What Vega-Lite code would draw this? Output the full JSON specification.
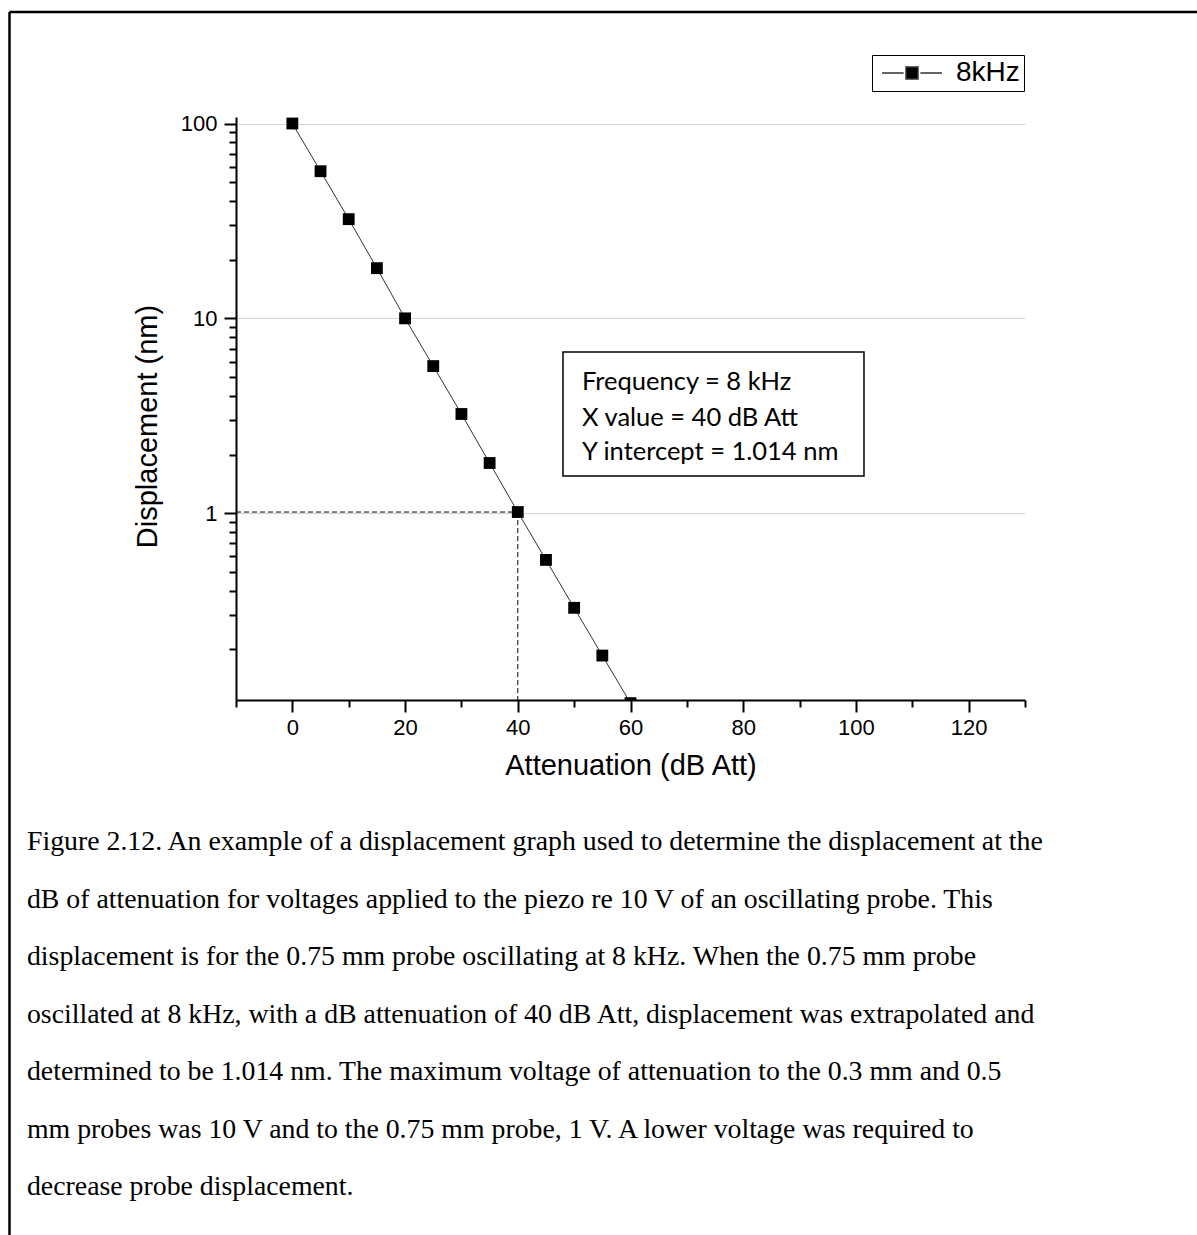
{
  "$schema": "https://vega.github.io/schema/vega-lite/v6.json",
  "width": 789,
  "height": 583,
  "autosize": {"type": "none"},
  "padding": {"left": 236, "top": 117, "right": 172, "bottom": 535},
  "background": "white",
  "config": {
    "view": {"stroke": null},
    "font": "Liberation Sans",
    "axis": {
      "labelFont": "Liberation Sans",
      "labelFontSize": 22,
      "labelColor": "black",
      "titleFont": "Liberation Sans",
      "titleFontSize": 29,
      "titleFontWeight": "normal",
      "titleColor": "black",
      "domainColor": "black",
      "domainWidth": 2,
      "tickColor": "black",
      "tickWidth": 2,
      "labelOverlap": false,
      "labelFlush": false,
      "labelBound": false
    },
    "legend": {
      "strokeColor": "black",
      "fillColor": "white",
      "padding": 4,
      "labelFont": "Liberation Sans",
      "labelFontSize": 28,
      "labelColor": "black",
      "labelOffset": 48
    }
  },
  "datasets": {
    "series": [
      {"att": 0, "disp": 100, "series": "8kHz"},
      {"att": 5, "disp": 56.9, "series": "8kHz"},
      {"att": 10, "disp": 32.3, "series": "8kHz"},
      {"att": 15, "disp": 18.1, "series": "8kHz"},
      {"att": 20, "disp": 10.0, "series": "8kHz"},
      {"att": 25, "disp": 5.69, "series": "8kHz"},
      {"att": 30, "disp": 3.23, "series": "8kHz"},
      {"att": 35, "disp": 1.81, "series": "8kHz"},
      {"att": 40, "disp": 1.014, "series": "8kHz"},
      {"att": 45, "disp": 0.576, "series": "8kHz"},
      {"att": 50, "disp": 0.327, "series": "8kHz"},
      {"att": 55, "disp": 0.186, "series": "8kHz"},
      {"att": 60, "disp": 0.106, "series": "8kHz"}
    ],
    "guides": [
      {"x": -10, "x2": 40, "y": 1.014, "y2": 1.014},
      {"x": 40, "x2": 40, "y": 1.014, "y2": 0.11}
    ],
    "box": [
      {"x": 48.02, "x2": 101.43, "y": 6.72, "y2": 1.552}
    ],
    "notes": [
      {"x": 51.4, "y": 4.29, "label": "Frequency = 8 kHz"},
      {"x": 51.4, "y": 2.8, "label": "X value = 40 dB Att"},
      {"x": 51.4, "y": 1.876, "label": "Y intercept = 1.014 nm"}
    ],
    "frame": [{}]
  },
  "layer": [
    {
      "data": {"name": "series"},
      "mark": {"type": "line", "color": "#333333", "strokeWidth": 1, "clip": true},
      "encoding": {
        "x": {
          "field": "att",
          "type": "quantitative",
          "scale": {"domain": [-10, 130], "nice": false, "zero": false},
          "axis": {
            "title": "Attenuation (dB Att)",
            "values": [-10, 0, 10, 20, 30, 40, 50, 60, 70, 80, 90, 100, 110, 120, 130],
            "labelExpr": "datum.value % 20 === 0 ? datum.label : ''",
            "tickSize": {"condition": {"test": "datum.value % 20 === 0", "value": 12}, "value": 7},
            "labelPadding": 5,
            "titlePadding": 13,
            "grid": false
          }
        },
        "y": {
          "field": "disp",
          "type": "quantitative",
          "scale": {"type": "log", "domain": [0.11, 108], "nice": false, "zero": false},
          "axis": {
            "title": "Displacement (nm)",
            "values": [0.2, 0.3, 0.4, 0.5, 0.6, 0.7, 0.8, 0.9, 1, 2, 3, 4, 5, 6, 7, 8, 9, 10, 20, 30, 40, 50, 60, 70, 80, 90, 100],
            "labelExpr": "(datum.value === 1 || datum.value === 10 || datum.value === 100) ? format(datum.value, 'd') : ''",
            "tickSize": {"condition": {"test": "datum.value === 1 || datum.value === 10 || datum.value === 100", "value": 12}, "value": 7},
            "grid": true,
            "gridColor": "#d4d4d4",
            "gridWidth": 1,
            "gridOpacity": {"condition": {"test": "datum.value === 1 || datum.value === 10 || datum.value === 100", "value": 1}, "value": 0},
            "labelPadding": 7,
            "titlePadding": 18,
            "titleY": 309
          }
        }
      }
    },
    {
      "data": {"name": "guides"},
      "mark": {"type": "rule", "color": "black", "strokeWidth": 1, "strokeDash": [5, 3]},
      "encoding": {
        "x": {"field": "x", "type": "quantitative"},
        "x2": {"field": "x2"},
        "y": {"field": "y", "type": "quantitative"},
        "y2": {"field": "y2"}
      }
    },
    {
      "data": {"name": "series"},
      "mark": {"type": "point", "shape": "square", "filled": true, "size": 140, "opacity": 1, "clip": true},
      "encoding": {
        "x": {"field": "att", "type": "quantitative"},
        "y": {"field": "disp", "type": "quantitative"},
        "color": {
          "field": "series",
          "type": "nominal",
          "scale": {"range": ["black"]},
          "legend": {
            "title": null,
            "orient": "none",
            "legendX": 636,
            "legendY": -62,
            "symbolOffset": 4,
            "symbolType": "M-1,0H0.8M2.2,0H4M1,-0.5H2V0.5H1Z",
            "symbolSize": 576,
            "symbolFillColor": "black",
            "symbolStrokeColor": "#333333",
            "labelExpr": "datum.label + '\u00a0\u00a0'"
          }
        }
      }
    },
    {
      "data": {"name": "box"},
      "mark": {"type": "rect", "fill": null, "stroke": "black", "strokeWidth": 1.5},
      "encoding": {
        "x": {"field": "x", "type": "quantitative"},
        "x2": {"field": "x2"},
        "y": {"field": "y", "type": "quantitative"},
        "y2": {"field": "y2"}
      }
    },
    {
      "data": {"name": "notes"},
      "mark": {"type": "text", "align": "left", "baseline": "alphabetic", "font": "Lato", "fontSize": 25.5, "color": "black"},
      "encoding": {
        "x": {"field": "x", "type": "quantitative"},
        "y": {"field": "y", "type": "quantitative"},
        "text": {"field": "label"}
      }
    },
    {
      "data": {"name": "frame"},
      "mark": {
        "type": "text",
        "align": "left",
        "baseline": "alphabetic",
        "font": "Liberation Serif",
        "fontSize": 27.8,
        "lineHeight": 57.5,
        "color": "black",
        "text": [
          "Figure 2.12. An example of a displacement graph used to determine the displacement at the",
          "dB of attenuation for voltages applied to the piezo re 10 V of an oscillating probe. This",
          "displacement is for the 0.75 mm probe oscillating at 8 kHz. When the 0.75 mm probe",
          "oscillated at 8 kHz, with a dB attenuation of 40 dB Att, displacement was extrapolated and",
          "determined to be 1.014 nm. The maximum voltage of attenuation to the 0.3 mm and 0.5",
          "mm probes was 10 V and to the 0.75 mm probe, 1 V. A lower voltage was required to",
          "decrease probe displacement."
        ]
      },
      "encoding": {
        "x": {"datum": -47.09},
        "y": {"datum": 0.0186}
      }
    },
    {
      "data": {"name": "frame"},
      "mark": {"type": "rule", "color": "black", "strokeWidth": 2.5},
      "encoding": {
        "x": {"datum": -50.19},
        "x2": {"datum": 170},
        "y": {"datum": 373.6}
      }
    },
    {
      "data": {"name": "frame"},
      "mark": {"type": "rule", "color": "black", "strokeWidth": 2.5},
      "encoding": {
        "x": {"datum": -50.19},
        "y": {"datum": 373.6},
        "y2": {"datum": 0.0001}
      }
    }
  ]
}
